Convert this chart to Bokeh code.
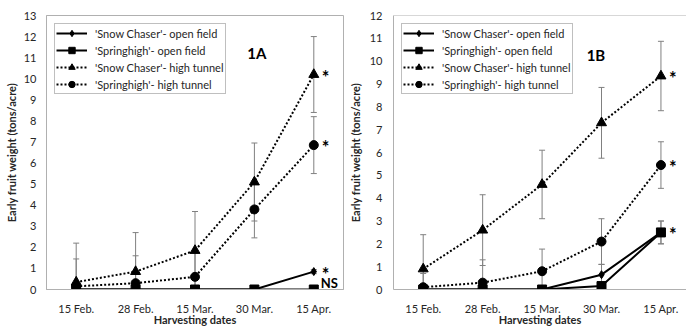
from bokeh.plotting import figure
from bokeh.layouts import row
from bokeh.models import (ColumnDataSource, Range1d, FixedTicker, Whisker, TeeHead,
                          Legend, LegendItem, Span, Label)
from bokeh.embed import file_html
from bokeh.resources import INLINE
from bokeh.core.properties import value

# ---------------- data ----------------
dates = ["15 Feb.", "28 Feb.", "15 Mar.", "30 Mar.", "15 Apr."]
series_labels = ["'Snow Chaser'- open field", "'Springhigh'- open field",
                 "'Snow Chaser'- high tunnel", "'Springhigh'- high tunnel"]

# Panel 1A
a_sc_open = [0, 0, 0, 0, 0.85]
a_sh_open = [0, 0, 0, 0, 0]
a_sc_tunnel = [0.35, 0.85, 1.85, 5.1, 10.2]
a_sh_tunnel = [0.15, 0.3, 0.6, 3.8, 6.85]
a_sc_open_err = [0, 0, 0, 0, 0.1]
a_sh_open_err = [0, 0, 0, 0, 0]
a_sc_tunnel_err = [1.85, 1.85, 1.85, 1.85, 1.8]
a_sh_tunnel_err = [1.3, 1.3, 1.3, 1.35, 1.35]
a_marks = ["*", "NS", "*", "*"]

# Panel 1B
b_sc_open = [0, 0, 0, 0.65, 2.5]
b_sh_open = [0, 0, 0, 0.15, 2.5]
b_sc_tunnel = [0.9, 2.6, 4.6, 7.3, 9.35]
b_sh_tunnel = [0.1, 0.3, 0.8, 2.1, 5.45]
b_sc_open_err = [0, 0, 0, 0.45, 0.5]
b_sh_open_err = [0, 0, 0, 0.1, 0.5]
b_sc_tunnel_err = [1.5, 1.55, 1.5, 1.55, 1.52]
b_sh_tunnel_err = [0.6, 1.0, 0.97, 1.0, 1.02]
b_marks = ["*", "", "*", "*"]

FONT = "Lato"
TXT = "#262626"
GRAY = "#b0b0b0"
ERR = "#808080"

styles = [
    dict(marker="diamond", size=8, dash="solid"),
    dict(marker="square", size=9, dash="solid"),
    dict(marker="triangle", size=10, dash="2 2"),
    dict(marker="circle", size=9, dash="2 2"),
]


def make_panel(series, errs, marks, ymax, xend, panel_label, label_pos,
               width, mb_left, mb_right, mb_top, mb_bottom, label_standoff,
               ylabel_standoff, legend_font, outline):
    x = list(range(len(dates)))
    p = figure(width=width, height=329, output_backend="svg", toolbar_location=None,
               x_range=Range1d(-0.5, xend), y_range=Range1d(0, ymax),
               min_border_left=mb_left, min_border_right=mb_right,
               min_border_top=mb_top, min_border_bottom=mb_bottom)
    p.xgrid.visible = False
    p.ygrid.visible = False
    p.background_fill_color = "white"
    p.border_fill_color = "white"
    if outline:
        p.outline_line_color = GRAY
    else:
        p.outline_line_color = None
        p.add_layout(Span(location=ymax, dimension="width", line_color=GRAY, line_width=1))

    p.xaxis.ticker = FixedTicker(ticks=x)
    p.xaxis.major_label_overrides = {i: d for i, d in enumerate(dates)}
    p.yaxis.ticker = FixedTicker(ticks=list(range(0, int(ymax) + 1)))
    for ax in (p.xaxis, p.yaxis):
        ax.major_tick_line_color = None
        ax.minor_tick_line_color = None
        ax.major_tick_out = 0
        ax.major_tick_in = 0
        ax.minor_tick_out = 0
        ax.minor_tick_in = 0
        ax.axis_line_color = GRAY
        ax.major_label_text_font = FONT
        ax.major_label_text_font_size = "11px"
        ax.major_label_text_color = TXT
        ax.axis_label_text_font = FONT
        ax.axis_label_text_font_size = "11px"
        ax.axis_label_text_font_style = "bold"
        ax.axis_label_text_color = TXT
    p.xaxis.axis_label = "Harvesting dates"
    p.yaxis.axis_label = "Early fruit weight (tons/acre)"
    p.xaxis.major_label_standoff = 12
    p.xaxis.axis_label_standoff = -5
    p.yaxis.major_label_standoff = label_standoff
    p.yaxis.axis_label_standoff = ylabel_standoff

    items = []
    for vals, err, st, name in zip(series, errs, styles, series_labels):
        bx = [xi for xi, e in zip(x, err) if e > 0]
        up = [v + e for v, e in zip(vals, err) if e > 0]
        lo = [max(0, v - e) for v, e in zip(vals, err) if e > 0]
        if bx:
            wsrc = ColumnDataSource(dict(x=bx, upper=up, lower=lo))
            w = Whisker(source=wsrc, base="x", upper="upper", lower="lower",
                        line_color=ERR, line_width=1, level="underlay",
                        upper_head=TeeHead(size=6, line_color=ERR, line_width=1),
                        lower_head=TeeHead(size=6, line_color=ERR, line_width=1))
            p.add_layout(w)
        src = ColumnDataSource(dict(x=x, y=vals))
        lr = p.line("x", "y", source=src, line_color="black", line_width=2,
                    line_dash=st["dash"])
        sr = p.scatter("x", "y", source=src, marker=st["marker"], size=st["size"],
                       fill_color="black", line_color="black")
        items.append(LegendItem(label=name, renderers=[lr, sr]))

    leg = Legend(items=items, location="top_left", margin=8, padding=1, spacing=1,
                 glyph_height=16, label_height=16, glyph_width=31, label_standoff=8,
                 border_line_color=ERR, border_line_width=1,
                 background_fill_color="white", background_fill_alpha=1,
                 label_text_font=FONT, label_text_font_size=legend_font,
                 label_text_color=TXT)
    p.add_layout(leg)

    # significance marks after last date
    last = len(dates) - 1
    star_y = [s[last] for s, m in zip(series, marks) if m == "*"]
    p.text(x=[last] * len(star_y), y=star_y, text=["*"] * len(star_y),
           text_font=value(FONT), text_font_size="18px", text_font_style="bold",
           text_color="black", text_baseline="alphabetic", text_align="left",
           x_offset=8, y_offset=2)
    ns_y = [s[last] for s, m in zip(series, marks) if m == "NS"]
    if ns_y:
        p.text(x=[last] * len(ns_y), y=ns_y, text=["NS"] * len(ns_y),
               text_font=value(FONT), text_font_size="13px", text_font_style="bold",
               text_color="black", text_baseline="bottom", text_align="left",
               x_offset=7, y_offset=1)

    p.add_layout(Label(x=label_pos[0], y=label_pos[1], text=panel_label,
                       text_font=FONT, text_font_size="15px", text_font_style="bold",
                       text_color="black", text_baseline="middle", text_align="left"))
    return p


pa = make_panel([a_sc_open, a_sh_open, a_sc_tunnel, a_sh_tunnel],
                [a_sc_open_err, a_sh_open_err, a_sc_tunnel_err, a_sh_tunnel_err],
                a_marks, 13, 4.5, "1A", (2.88, 11.23),
                width=345, mb_left=46, mb_right=2, mb_top=15, mb_bottom=40,
                label_standoff=10, ylabel_standoff=3, legend_font="11px", outline=True)
pb = make_panel([b_sc_open, b_sh_open, b_sc_tunnel, b_sh_tunnel],
                [b_sc_open_err, b_sh_open_err, b_sc_tunnel_err, b_sh_tunnel_err],
                b_marks, 12, 4.43, "1B", (2.75, 10.27),
                width=341, mb_left=45, mb_right=0, mb_top=13, mb_bottom=39,
                label_standoff=11, ylabel_standoff=5, legend_font="11px", outline=False)

layout = row(pa, pb)
open("out.html", "w").write(file_html(layout, INLINE))
